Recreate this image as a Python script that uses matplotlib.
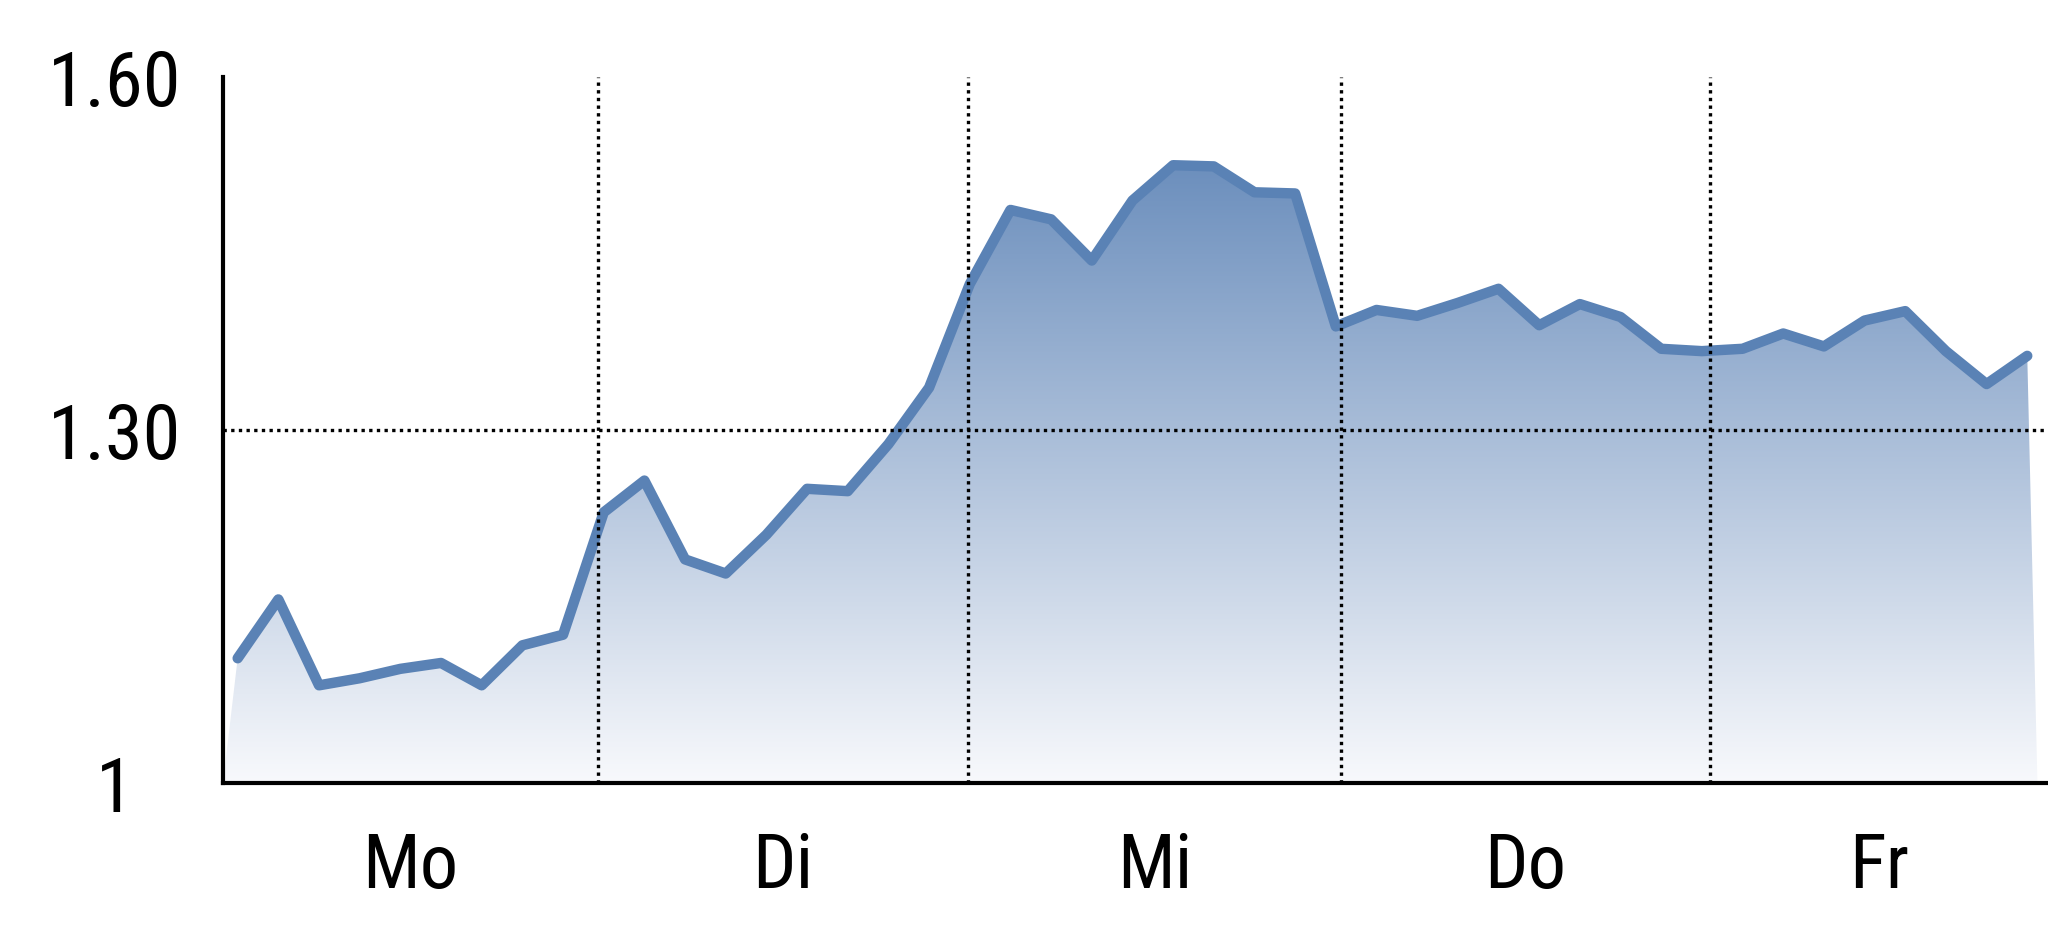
import numpy as np
import matplotlib.pyplot as plt
from matplotlib.colors import LinearSegmentedColormap
from matplotlib.patches import Polygon

# day labels and where the days start/end (in point index units)
days = ['Mo', 'Di', 'Mi', 'Do', 'Fr']
day_edges = [-0.36, 8.86, 17.96, 27.13, 36.2, 44.51]

# rate values
rate = [1.106, 1.156, 1.083, 1.089, 1.097, 1.102, 1.083, 1.117, 1.126,
        1.230, 1.257, 1.190, 1.178, 1.211, 1.250, 1.248, 1.288, 1.336,
        1.424, 1.487, 1.479, 1.444, 1.495, 1.525, 1.524, 1.502, 1.501,
        1.388, 1.402, 1.397, 1.408, 1.420, 1.389, 1.407, 1.396, 1.369,
        1.367, 1.369, 1.382, 1.371, 1.393, 1.401, 1.367, 1.339, 1.363]

yticks = [1.0, 1.3, 1.6]
ytick_labels = ['1', '1.30', '1.60']

plt.rcParams['font.family'] = ['Roboto Condensed', 'Liberation Sans', 'DejaVu Sans']

fig = plt.figure(figsize=(20.48, 9.37), dpi=100)
ax = fig.add_axes([0.1089, 0.1633, 1 - 0.1089, 0.9168 - 0.1633])

x = np.arange(len(rate))
ax.set_xlim(day_edges[0], day_edges[-1])
ax.set_ylim(1.0, 1.6)

# gradient area under the line
verts = [(day_edges[0], 1.0)] + list(zip(x, rate)) + [(x[-1] + 0.25, 1.0)]
poly = Polygon(verts, closed=True, facecolor='none', edgecolor='none')
ax.add_patch(poly)
cmap = LinearSegmentedColormap.from_list('fade', ['#f8f9fc', '#6c8fbd'])
grad = np.linspace(0, 1, 256).reshape(-1, 1)
img = ax.imshow(grad, cmap=cmap, origin='lower', aspect='auto',
                extent=[day_edges[0], x[-1] + 0.3, 1.0, max(rate)], zorder=1)
img.set_clip_path(poly)

ax.plot(x, rate, color='#5a82b5', lw=7.5, solid_joinstyle='round',
        solid_capstyle='round', zorder=2)

# dotted grid: day boundaries and the 1.30 line
for e in day_edges[1:-1]:
    ax.axvline(e, color='black', lw=2.4, linestyle=(0, (1, 1.3)), zorder=3)
ax.axhline(1.3, color='black', lw=2.4, linestyle=(0, (1, 1.3)), zorder=3)

ax.spines['top'].set_visible(False)
ax.spines['right'].set_visible(False)
ax.spines['left'].set_linewidth(3)
ax.spines['bottom'].set_linewidth(3)

mids = [(a + b) / 2 for a, b in zip(day_edges[:-1], day_edges[1:])]
ax.set_xticks(mids, days)
ax.set_yticks(yticks, ytick_labels)
ax.tick_params(axis='x', length=0, pad=34, labelsize=55)
ax.tick_params(axis='y', length=0, pad=78, labelsize=55)
for lbl in ax.get_yticklabels():
    lbl.set_horizontalalignment('center')

fig.savefig('out.png', dpi=100)
